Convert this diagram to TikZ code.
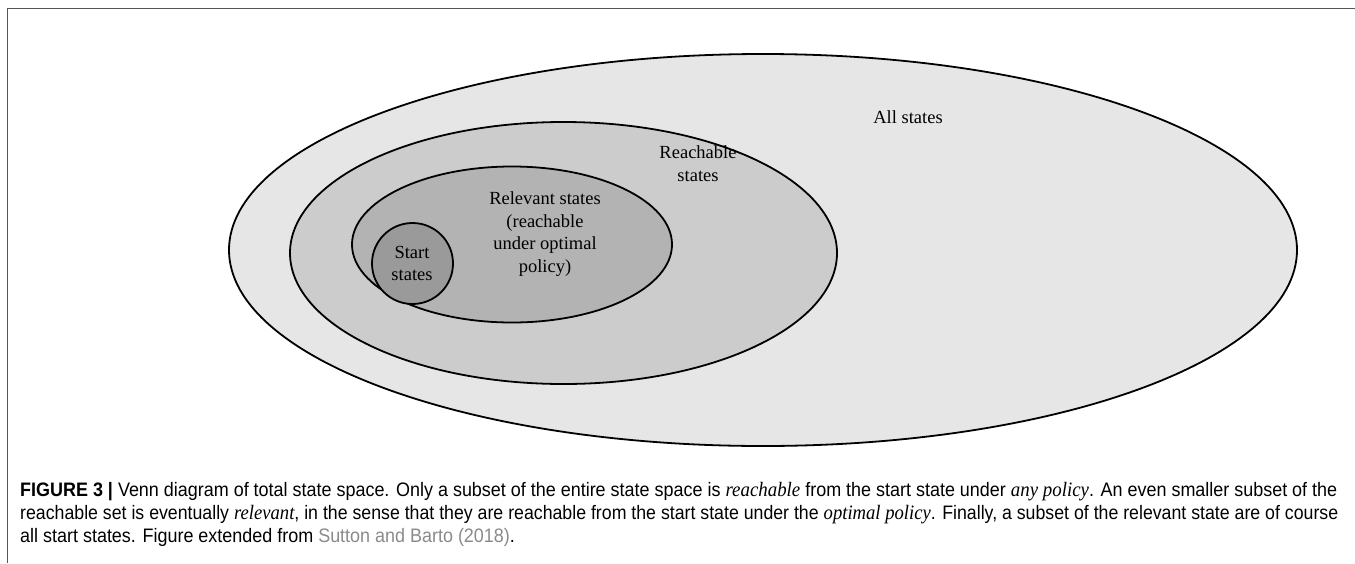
\documentclass[tikz,border=0pt]{standalone}
\usepackage{fontspec}
\setmainfont{Liberation Serif}
\newfontfamily\capfont{Liberation Sans}
\usetikzlibrary{positioning}
\definecolor{allc}{HTML}{E6E6E6}
\definecolor{reachc}{HTML}{CCCCCC}
\definecolor{relc}{HTML}{B3B3B3}
\definecolor{startc}{HTML}{9A9A9A}
\definecolor{framec}{HTML}{555555}
\definecolor{captc}{HTML}{2B2B2B}
\definecolor{refc}{HTML}{8A8A8A}
\tikzset{
  setshape/.style={draw=black, line width=1.8pt},
  lbl/.style={font=\fontsize{18.5}{22.7}\selectfont, align=center, inner sep=0pt},
  capline/.style={anchor=base west, inner sep=0pt, text=captc},
  frameline/.style={draw=framec, line width=1.6pt}
}
\newcommand{\capit}[1]{{\rmfamily\itshape\fontsize{20.5}{23}\selectfont #1}}
\newcommand{\capsz}{\capfont\fontsize{19.5}{23}\selectfont}
\newsavebox{\capboxA}
\newsavebox{\capboxB}
\newsavebox{\capboxC}
\sbox{\capboxA}{\capsz\textbf{FIGURE 3 |} Venn diagram of total state space. Only a subset of the entire state space is \capit{reachable} from the start state under \capit{any policy}. An even smaller subset of the}
\sbox{\capboxB}{\capsz reachable set is eventually \capit{relevant}, in the sense that they are reachable from the start state under the \capit{optimal policy}. Finally, a subset of the relevant state are of course}
\sbox{\capboxC}{\capsz all start states. Figure extended from \textcolor{refc}{Sutton and Barto (2018)}.}
\begin{document}
\begin{tikzpicture}[x=1pt,y=-1pt]
\useasboundingbox (0,0) rectangle (1355,563);
\pgfmathsetmacro{\capratioA}{1317/\the\wd\capboxA}
\pgfmathsetmacro{\capratioB}{1318/\the\wd\capboxB}
% frame
\coordinate (fTL) at (7.5,8.5);
\coordinate (fTR) at (1355,8.5);
\coordinate (fBL) at (7.5,563);
\draw[frameline] (fBL) -- (fTL) -- (fTR);
% sets
\path[setshape, fill=allc] (763,250) ellipse [x radius=534, y radius=196];
\path[setshape, fill=reachc] (563.5,253) ellipse [x radius=273.5, y radius=131];
\path[setshape, fill=relc] (512,244.5) ellipse [x radius=160, y radius=78];
\path[setshape, fill=startc] (412.5,263.5) ellipse [x radius=40.5, y radius=40.5];
% labels
\node[lbl] (all) at (908,117) {All states};
\node[lbl] (reach) at (698,163.5) {Reachable\\states};
\node[lbl] (rel) at (545,234) {Relevant states\\(reachable\\under optimal\\policy)};
\node[lbl] (start) at (412,263.5) {Start\\states};
% caption
\node[capline] (c1) at (20,496) {\scalebox{\capratioA}[1]{\usebox{\capboxA}}};
\node[capline] (c2) at (20,519) {\scalebox{\capratioB}[1]{\usebox{\capboxB}}};
\node[capline] (c3) at (20,542) {\scalebox{\capratioA}[1]{\usebox{\capboxC}}};
\end{tikzpicture}
\end{document}
